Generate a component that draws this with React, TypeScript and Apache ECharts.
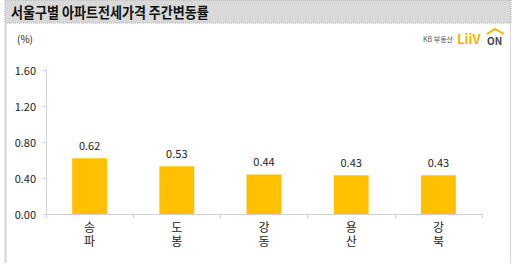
import React, { useEffect, useRef } from "react";
import * as echarts from "echarts";

const categories = ["송\n파", "도\n봉", "강\n동", "용\n산", "강\n북"];
const values = [0.62, 0.53, 0.44, 0.43, 0.43];
const yTicks = [0, 0.4, 0.8, 1.2, 1.6];
const titleText = "서울구별 아파트전세가격 주간변동률";
const unitText = "(%)";

const FONT = "'Noto Sans CJK KR', 'Noto Sans', sans-serif";

export default function App() {
  const ref = useRef<HTMLDivElement>(null);
  useEffect(() => {
    if (!ref.current) return;
    const chart = echarts.init(ref.current, null, { renderer: "svg" });
    chart.setOption({
      animation: false,
      backgroundColor: "#ffffff",
      grid: { left: 46, right: 30, top: 70, bottom: 51 },
      xAxis: {
        type: "category",
        data: categories,
        axisLine: { lineStyle: { color: "#d0d0d0" } },
        axisTick: { show: true, length: 4, lineStyle: { color: "#d0d0d0" } },
        axisLabel: {
          color: "#222",
          fontFamily: FONT,
          fontSize: 12,
          lineHeight: 13.5,
          margin: 6,
        },
      },
      yAxis: {
        type: "value",
        min: yTicks[0],
        max: yTicks[yTicks.length - 1],
        interval: 0.4,
        axisLine: { show: true, lineStyle: { color: "#d0d0d0" } },
        axisTick: { show: true, length: 3, lineStyle: { color: "#d0d0d0" } },
        splitLine: { show: false },
        axisLabel: {
          color: "#222",
          fontFamily: FONT,
          fontSize: 11,
          margin: 10,
          formatter: (v: number) => v.toFixed(2),
        },
      },
      series: [
        {
          type: "bar",
          data: values,
          barWidth: "40%",
          itemStyle: { color: "#FFC000" },
          label: {
            show: true,
            position: "top",
            distance: 8,
            color: "#222",
            fontFamily: FONT,
            fontSize: 11,
            formatter: (p: any) => p.value.toFixed(2),
          },
        },
      ],
      graphic: [
        {
          type: "rect",
          shape: { x: 5, y: 0, width: 506, height: 23 },
          style: { fill: "#d9d9d9", stroke: "#aaaaaa", lineWidth: 1, lineDash: [1, 1] },
          z: 0,
        },
        {
          type: "line",
          shape: { x1: 5.5, y1: 23, x2: 5.5, y2: 263 },
          style: { stroke: "#d4d4d4", lineWidth: 2 },
        },
        {
          type: "line",
          shape: { x1: 510.5, y1: 23, x2: 510.5, y2: 263 },
          style: { stroke: "#d4d4d4", lineWidth: 1 },
        },
        {
          type: "text",
          x: 11,
          y: 12,
          scaleX: 0.87,
          style: {
            text: titleText,
            fill: "#111",
            font: `bold 15px ${FONT}`,
            verticalAlign: "middle",
          },
        },
        {
          type: "text",
          x: 17,
          y: 38,
          style: {
            text: unitText,
            fill: "#222",
            font: `10px ${FONT}`,
            verticalAlign: "middle",
          },
        },
        {
          type: "text",
          x: 423,
          y: 39,
          style: {
            text: "KB 부동산",
            fill: "#555",
            font: `7px ${FONT}`,
            verticalAlign: "middle",
          },
        },
        {
          type: "text",
          x: 457,
          y: 38,
          style: {
            text: "LiiV",
            fill: "#f5b400",
            font: `bold 13px ${FONT}`,
            verticalAlign: "middle",
          },
        },
        {
          type: "text",
          x: 487,
          y: 40,
          style: {
            text: "ON",
            fill: "#444",
            font: `bold 10px ${FONT}`,
            verticalAlign: "middle",
          },
        },
        {
          type: "polyline",
          shape: { points: [[487, 34], [495, 29], [504, 34]] },
          style: { stroke: "#f5b400", lineWidth: 2, fill: "none" },
        },
      ],
    });
    return () => chart.dispose();
  }, []);
  return (
    <div
      ref={ref}
      style={{ position: "fixed", left: 0, top: 0, width: 512, height: 265 }}
    />
  );
}
